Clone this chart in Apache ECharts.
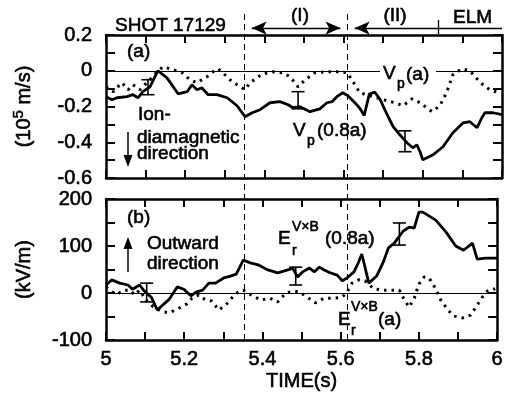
<!DOCTYPE html>
<html><head><meta charset="utf-8">
<script src="https://cdn.jsdelivr.net/npm/echarts@6/dist/echarts.min.js"></script>
<style>html,body{margin:0;padding:0;background:#fff}#c{width:506px;height:396px}</style>
</head><body><div id="c"></div>
<script>
const FONT = '"Liberation Sans", Arial, Helvetica, sans-serif';

// ---- Panel (a): V_p (10^5 m/s) ----
const vp08Time = [5.0, 5.015, 5.028, 5.053, 5.068, 5.081, 5.093, 5.111, 5.131, 5.154, 5.182, 5.205, 5.217, 5.23, 5.242, 5.258, 5.28, 5.306, 5.331, 5.351, 5.369, 5.389, 5.414, 5.439, 5.46, 5.472, 5.49, 5.515, 5.54, 5.558, 5.571, 5.583, 5.598, 5.611, 5.629, 5.641, 5.652, 5.665, 5.679, 5.692, 5.71, 5.725, 5.742, 5.76, 5.775, 5.785, 5.793, 5.8, 5.826, 5.851, 5.876, 5.902, 5.919, 5.937, 5.949, 5.957, 5.977, 6.0];
const vp08Vals = [-0.145, -0.162, -0.151, -0.145, -0.134, -0.151, -0.117, -0.09, 0, -0.04, -0.129, -0.117, -0.078, -0.106, -0.095, -0.134, -0.134, -0.151, -0.196, -0.257, -0.235, -0.218, -0.179, -0.173, -0.19, -0.207, -0.201, -0.229, -0.213, -0.179, -0.173, -0.145, -0.123, -0.14, -0.18, -0.21, -0.25, -0.13, -0.12, -0.16, -0.246, -0.313, -0.358, -0.403, -0.431, -0.414, -0.453, -0.498, -0.47, -0.425, -0.347, -0.291, -0.285, -0.319, -0.263, -0.235, -0.235, -0.246];
const vpaTime = [5.0, 5.018, 5.04, 5.056, 5.068, 5.086, 5.098, 5.111, 5.129, 5.144, 5.169, 5.192, 5.212, 5.23, 5.255, 5.27, 5.283, 5.295, 5.313, 5.331, 5.351, 5.364, 5.381, 5.396, 5.422, 5.447, 5.465, 5.485, 5.503, 5.528, 5.558, 5.591, 5.609, 5.624, 5.641, 5.667, 5.71, 5.73, 5.75, 5.773, 5.793, 5.823, 5.843, 5.861, 5.876, 5.899, 5.919, 5.939, 5.957, 5.975, 5.995];
const vpaVals = [-0.09, -0.117, -0.067, -0.106, -0.078, -0.106, -0.078, -0.05, -0.006, 0.022, 0.006, -0.011, -0.05, -0.067, -0.034, -0.006, 0.011, -0.011, -0.05, -0.078, -0.106, -0.067, -0.039, -0.017, -0.006, -0.011, -0.034, -0.09, -0.05, -0.011, -0.006, -0.006, -0.011, -0.062, -0.123, -0.14, -0.168, -0.179, -0.196, -0.157, -0.179, -0.229, -0.196, -0.117, -0.022, 0.011, 0, -0.05, -0.09, -0.112, -0.123];
const vpErrTime = [5.106, 5.485, 5.755];
const vpErrLow  = [-0.134, -0.213, -0.453];
const vpErrHigh = [-0.05, -0.117, -0.336];
const vTickLabels = ['0.2', '0', '-0.2', '-0.4', '-0.6'];

// ---- Panel (b): E_r (kV/m) ----
const er08Time = [5.0, 5.015, 5.035, 5.056, 5.068, 5.086, 5.098, 5.116, 5.131, 5.162, 5.182, 5.199, 5.217, 5.23, 5.247, 5.263, 5.28, 5.301, 5.318, 5.333, 5.351, 5.369, 5.389, 5.414, 5.439, 5.465, 5.477, 5.49, 5.503, 5.52, 5.533, 5.545, 5.558, 5.573, 5.591, 5.604, 5.616, 5.634, 5.646, 5.654, 5.672, 5.692, 5.71, 5.722, 5.737, 5.76, 5.775, 5.788, 5.8, 5.81, 5.843, 5.869, 5.894, 5.914, 5.937, 5.949, 5.97, 6.0];
const er08Vals = [17, 28, 21, 17, 8, 17, 4, -9, -36, -13, 13, 8, -6, 2, 6, 21, 21, 32, 36, 40, 70, 64, 60, 49, 43, 49, 53, 34, 45, 53, 45, 55, 49, 43, 38, 26, 32, 45, 66, 83, 21, 36, 68, 96, 106, 132, 140, 138, 172, 172, 155, 130, 100, 91, 106, 72, 74, 74];
const eraTime = [5.0, 5.015, 5.03, 5.045, 5.061, 5.073, 5.086, 5.104, 5.119, 5.144, 5.162, 5.187, 5.207, 5.22, 5.237, 5.255, 5.27, 5.288, 5.306, 5.321, 5.338, 5.351, 5.371, 5.396, 5.419, 5.439, 5.46, 5.482, 5.495, 5.515, 5.535, 5.558, 5.583, 5.604, 5.616, 5.629, 5.646, 5.662, 5.684, 5.71, 5.735, 5.75, 5.763, 5.775, 5.788, 5.8, 5.813, 5.826, 5.843, 5.856, 5.874, 5.889, 5.912, 5.932, 5.949, 5.962, 5.975, 5.995];
const eraVals = [13, 2, -2, 6, 6, -4, 6, -17, -28, -40, -42, -32, -23, -11, -4, -15, -17, -36, -26, -11, 2, 6, -4, -15, -11, -19, 0, 4, 2, -9, -21, -11, -11, -9, 2, 21, 28, 26, 9, 6, 6, 6, -15, -30, -11, 19, 34, 32, 9, -15, -36, -49, -53, -47, -26, -9, 4, 9];
const erErrTime = [5.104, 5.485, 5.75];
const erErrLow  = [-19, 17, 102];
const erErrHigh = [21, 55, 149];
const eTickLabels = ['200', '100', '0', '-100'];

// ---- Time axis & phase markers ----
const timeTickLabels = ['5', '5.2', '5.4', '5.6', '5.8', '6'];
const phaseBounds = [5.35, 5.61];   // dashed lines
const elmStart = 5.84;
const phaseLabels = ['(I)', '(II)', 'ELM'];

function zip(a, b) { return a.map((t, i) => [t, b[i]]); }
function zip3(a, b, c) { return a.map((t, i) => [t, b[i], c[i]]); }

const chart = echarts.init(document.getElementById('c'));

const axLine = { show: true, onZero: false, lineStyle: { color: '#000', width: 2.5 } };
const tick = { show: true, inside: true, length: 8, lineStyle: { color: '#000', width: 2 } };
const lab = { color: '#000', fontFamily: FONT, fontSize: 20, textBorderColor: '#000', textBorderWidth: 0.6 };

function xAx(gi, pos, showLabels) {
  return {
    type: 'value', gridIndex: gi, position: pos, min: 5, max: 6, interval: 0.1,
    axisLine: axLine, axisTick: tick, splitLine: { show: false },
    axisLabel: Object.assign({ show: showLabels, margin: 9, formatter: v => {
      const k = Math.round(v * 10);
      if (k % 2) return '';
      return timeTickLabels[(k - 50) / 2];
    } }, lab)
  };
}

const xAxes = [xAx(0, 'bottom', false), xAx(0, 'top', false), xAx(1, 'bottom', true), xAx(1, 'top', false),
  { type: 'value', gridIndex: 2, min: 5, max: 6, show: false }];
xAxes[2].name = 'TIME(s)';
xAxes[2].nameLocation = 'middle';
xAxes[2].nameGap = 31;
xAxes[2].nameTextStyle = { color: '#000', fontFamily: FONT, fontSize: 20, textBorderColor: '#000', textBorderWidth: 0.6 };

const yTopBase = { type: 'value', gridIndex: 0, min: -0.6, max: 0.2, interval: 0.1, axisLine: axLine, axisTick: Object.assign({}, tick, { length: 9 }), splitLine: { show: false } };
const yBotBase = { type: 'value', gridIndex: 1, min: -100, max: 200, interval: 50, axisLine: axLine, axisTick: Object.assign({}, tick, { length: 9 }), splitLine: { show: false } };

const yAxes = [
  Object.assign({}, yTopBase, { position: 'left',
    axisLabel: Object.assign({ margin: 14, formatter: v => { const k = Math.round(v * 10); return k % 2 ? '' : vTickLabels[(2 - k) / 2]; } }, lab),
    name: '(10{s|5} m/s)', nameLocation: 'middle', nameGap: 69,
    nameTextStyle: { color: '#000', fontFamily: FONT, fontSize: 20, lineHeight: 26, textBorderColor: '#000', textBorderWidth: 0.6,
      rich: { s: { fontSize: 15, fontFamily: FONT, color: '#000', verticalAlign: 'top', lineHeight: 10, textBorderColor: '#000', textBorderWidth: 0.5 } } } }),
  Object.assign({}, yTopBase, { position: 'right', axisLabel: { show: false } }),
  Object.assign({}, yBotBase, { position: 'left',
    axisLabel: Object.assign({ margin: 14, formatter: v => v % 100 ? '' : eTickLabels[(200 - v) / 100] }, lab),
    name: '(kV/m)', nameLocation: 'middle', nameGap: 72,
    nameTextStyle: { color: '#000', fontFamily: FONT, fontSize: 20, textBorderColor: '#000', textBorderWidth: 0.6 } }),
  Object.assign({}, yBotBase, { position: 'right', axisLabel: { show: false } }),
  { type: 'value', gridIndex: 2, min: 0, max: 1, show: false }
];

function errRender(params, api) {
  const x = api.value(0), lo = api.value(1), hi = api.value(2);
  const a = api.coord([x, hi]), b = api.coord([x, lo]);
  const hw = 6.5;
  const st = { stroke: '#000', lineWidth: 1.6 };
  return { type: 'group', children: [
    { type: 'line', shape: { x1: a[0], y1: a[1], x2: b[0], y2: b[1] }, style: st },
    { type: 'line', shape: { x1: a[0] - hw, y1: a[1], x2: a[0] + hw, y2: a[1] }, style: st },
    { type: 'line', shape: { x1: b[0] - hw, y1: b[1], x2: b[0] + hw, y2: b[1] }, style: st }
  ] };
}

const solid = { color: '#000', width: 2.8, type: 'solid' };
const dotted = { color: '#000', width: 3, type: [2.5, 5] };
const zeroLine = { silent: true, symbol: 'none', label: { show: false }, lineStyle: { color: '#000', width: 1, type: 'solid' }, data: [{ yAxis: 0 }] };

// overlay: header row level (fraction of overlay height)
const HDR = 0.951, ELM_T = 0.976, ELM_B = 0.933;
const AH = 0.018; // half arrowhead length in time units

const arrowSym = { symbol: 'arrow', symbolSize: [10, 15] };

const series = [
  { type: 'line', xAxisIndex: 0, yAxisIndex: 0, data: zip(vp08Time, vp08Vals), showSymbol: false, lineStyle: solid, markLine: zeroLine, z: 3 },
  { type: 'line', xAxisIndex: 0, yAxisIndex: 0, data: zip(vpaTime, vpaVals), showSymbol: false, lineStyle: dotted, z: 3 },
  { type: 'custom', xAxisIndex: 0, yAxisIndex: 0, data: zip3(vpErrTime, vpErrLow, vpErrHigh), renderItem: errRender, encode: { x: 0, y: [1, 2] }, z: 4 },
  { type: 'line', xAxisIndex: 2, yAxisIndex: 2, data: zip(er08Time, er08Vals), showSymbol: false, lineStyle: solid, markLine: zeroLine, z: 3 },
  { type: 'line', xAxisIndex: 2, yAxisIndex: 2, data: zip(eraTime, eraVals), showSymbol: false, lineStyle: dotted, z: 3 },
  { type: 'custom', xAxisIndex: 2, yAxisIndex: 2, data: zip3(erErrTime, erErrLow, erErrHigh), renderItem: errRender, encode: { x: 0, y: [1, 2] }, z: 4 },
  { type: 'line', xAxisIndex: 4, yAxisIndex: 4, data: [], showSymbol: false, z: 5,
    markLine: { silent: true, symbol: 'none', label: { show: false }, animation: false,
      lineStyle: { color: '#000', width: 1, type: [6, 4] },
      data: [
        { xAxis: phaseBounds[0] }, { xAxis: phaseBounds[1] },
        [Object.assign({ coord: [phaseBounds[0] + AH, HDR], lineStyle: { type: 'solid', width: 1.3 } }, arrowSym),
         Object.assign({ coord: [phaseBounds[1] - AH, HDR] }, arrowSym)],
        [Object.assign({ coord: [phaseBounds[1] + AH, HDR], lineStyle: { type: 'solid', width: 1.3 } }, arrowSym),
         { coord: [6, HDR], symbol: 'none' }],
        [{ coord: [elmStart, ELM_T], symbol: 'none', lineStyle: { type: 'solid', width: 1.3 } },
         { coord: [elmStart, ELM_B], symbol: 'none' }]
      ] } }
];

function T(x, y, s, size, extra) {
  return Object.assign({ type: 'text', x: x, y: y, z: 50,
    style: { text: s, fill: '#000', font: size + 'px ' + FONT, fontSize: size, fontFamily: FONT,
      stroke: '#000', lineWidth: 0.6,
      align: 'left', verticalAlign: 'middle', textAlign: 'left', textVerticalAlign: 'middle' } }, extra || {});
}
function Tc(x, y, s, size) {
  const t = T(x, y, s, size);
  t.style.align = 'center'; t.style.textAlign = 'center';
  return t;
}

const graphics = [
  { type: 'rect', z: 40, shape: { x: 380, y: 64, width: 56, height: 26 }, style: { fill: '#fff' } },
  T(115, 26, 'SHOT 17129', 19),
  Tc(300, 16, phaseLabels[0], 19),
  Tc(395, 16, phaseLabels[1], 19),
  T(453, 18, phaseLabels[2], 19),
  T(127, 52, '(a)', 19),
  T(127, 218, '(b)', 19),
  T(138, 115, 'Ion-', 19),
  T(137, 138, 'diamagnetic', 19),
  T(137, 154, 'direction', 19),
  T(147, 244, 'Outward', 19),
  T(147, 264, 'direction', 19),
  // V_p(a)
  T(383, 74, 'V', 19), T(397, 84, 'p', 14), T(406, 75, '(a)', 19),
  // V_p(0.8a)
  T(293, 131, 'V', 19), T(307, 141, 'p', 14), T(317, 131, '(0.8a)', 19),
  // E_r^{VxB}(0.8a)
  T(278, 239, 'E', 19), T(292, 227, 'V×B', 14), T(292, 251, 'r', 14), T(325, 239, '(0.8a)', 19),
  // E_r^{VxB}(a)
  T(338, 320, 'E', 19), T(351, 307, 'V×B', 14), T(351, 331, 'r', 14), T(378, 320, '(a)', 19),
  // direction arrows
  { type: 'line', z: 50, shape: { x1: 128, y1: 132, x2: 128, y2: 157 }, style: { stroke: '#000', lineWidth: 1.5 } },
  { type: 'polygon', z: 50, shape: { points: [[123.5, 155], [132.5, 155], [128, 167]] }, style: { fill: '#000' } },
  { type: 'line', z: 50, shape: { x1: 128, y1: 272, x2: 128, y2: 247 }, style: { stroke: '#000', lineWidth: 1.5 } },
  { type: 'polygon', z: 50, shape: { points: [[123.5, 249], [132.5, 249], [128, 237]] }, style: { fill: '#000' } }
];

chart.setOption({
  animation: false,
  backgroundColor: '#fff',
  grid: [
    { left: 106, right: 4, top: 35, height: 143 },
    { left: 106, right: 4, top: 199, height: 141 },
    { left: 106, right: 4, top: 12, height: 328 }
  ],
  xAxis: xAxes,
  yAxis: yAxes,
  series: series,
  graphic: graphics
});
</script>
</body></html>
